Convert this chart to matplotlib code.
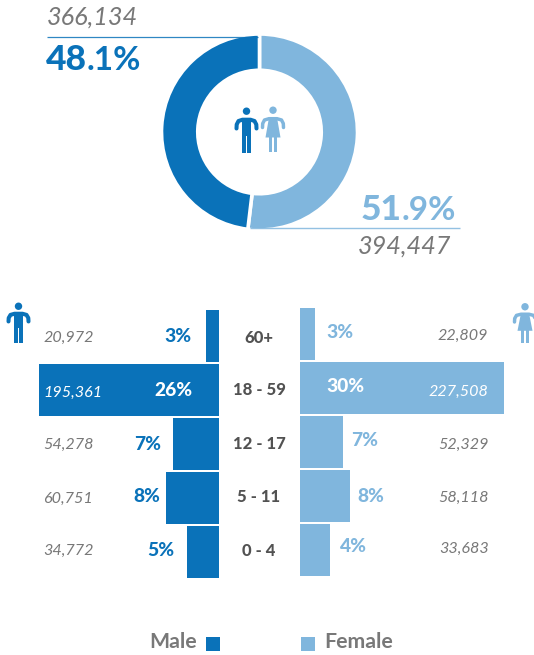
import matplotlib
matplotlib.use('Agg')
import matplotlib.pyplot as plt
from matplotlib.patches import Circle, Polygon, Rectangle

plt.rcParams['font.family'] = ['Lato', 'DejaVu Sans']

BLUE = '#0a72b9'
LIGHT = '#80b6dd'
GRAY = '#787878'
DARK = '#525252'

W, H = 534, 655

ages = ['60+', '18 - 59', '12 - 17', '5 - 11', '0 - 4']
male_pop = ['20,972', '195,361', '54,278', '60,751', '34,772']
female_pop = ['22,809', '227,508', '52,329', '58,118', '33,683']
male_pct = ['3%', '26%', '7%', '8%', '5%']
female_pct = ['3%', '30%', '7%', '8%', '4%']
# bar lengths as drawn in the picture, they do not follow the labels exactly
male_len = [2.0, 26.0, 6.7, 7.7, 4.6]
female_len = [2.2, 29.6, 6.3, 7.3, 4.4]
total_share = [51.9, 48.1]
total_colors = [LIGHT, BLUE]

fig = plt.figure(figsize=(W / 100, H / 100), dpi=100)


def px_axes(x0, y0, x1, y1):
    return fig.add_axes([x0 / W, 1 - y1 / H, (x1 - x0) / W, (y1 - y0) / H])


# donut
ax_d = px_axes(161.5, 34, 357.5, 230)
ax_d.pie(total_share, colors=total_colors, startangle=90, counterclock=False,
         radius=1, wedgeprops=dict(width=0.37, edgecolor='white', linewidth=2.6))
ax_d.set_xlim(-1, 1)
ax_d.set_ylim(-1, 1)

# pyramid
ax_m = px_axes(39, 309, 219.4, 579)
ax_m.barh(range(5), male_len, height=0.945, color=BLUE, edgecolor='none')
ax_m.set_xlim(26, 0)
ax_m.set_ylim(4.5, -0.5)
ax_m.axis('off')

ax_f = px_axes(299.7, 307, 504.3, 577)
ax_f.barh(range(5), female_len, height=0.945, color=LIGHT, edgecolor='none')
ax_f.set_xlim(0, 29.6)
ax_f.set_ylim(4.5, -0.5)
ax_f.axis('off')

# everything else sits in pixel space
ax = fig.add_axes([0, 0, 1, 1], facecolor='none')
ax.set_xlim(0, W)
ax.set_ylim(H, 0)
ax.axis('off')


def man(cx, top, sy=1.0, color=BLUE):
    y = lambda v: top + v * sy
    ax.add_patch(Circle((cx, y(3.7)), 3.7, color=color, lw=0))
    ax.plot([cx - 10, cx - 9.8, cx - 8, cx - 4, cx + 4, cx + 8, cx + 9.8, cx + 10],
            [y(21), y(17), y(13.5), y(12.2), y(12.2), y(13.5), y(17), y(21)],
            color=color, lw=2.9, solid_capstyle='round', solid_joinstyle='round')
    ax.add_patch(Rectangle((cx - 4.6, y(11)), 9.2, 17 * sy, color=color, lw=0))
    ax.add_patch(Rectangle((cx - 4.6, y(27)), 3.9, 18 * sy, color=color, lw=0))
    ax.add_patch(Rectangle((cx + 0.7, y(27)), 3.9, 18 * sy, color=color, lw=0))


def woman(cx, top, sy=1.0, color=LIGHT):
    y = lambda v: top + v * sy
    ax.add_patch(Circle((cx, y(3.7)), 3.7, color=color, lw=0))
    ax.plot([cx - 10.5, cx - 10.3, cx - 8.5, cx - 4, cx + 4, cx + 8.5, cx + 10.3, cx + 10.5],
            [y(21), y(17), y(13.5), y(12.2), y(12.2), y(13.5), y(17), y(21)],
            color=color, lw=2.5, solid_capstyle='round', solid_joinstyle='round')
    ax.add_patch(Polygon([(cx - 4, y(11)), (cx + 4, y(11)), (cx + 7.5, y(31)), (cx - 7.5, y(31))],
                         color=color, lw=0))
    ax.add_patch(Rectangle((cx - 4, y(30)), 3.2, 15 * sy, color=color, lw=0))
    ax.add_patch(Rectangle((cx + 0.8, y(30)), 3.2, 15 * sy, color=color, lw=0))


man(246.5, 107.5)
woman(273, 106.5)
man(18.5, 303, sy=0.88)
woman(525, 303.5, sy=0.88)


def two_part(x, y, bold, rest, size, color):
    # bold integer part followed by regular decimals, sharing a baseline
    fig.canvas.draw()
    r = fig.canvas.get_renderer()
    t1 = ax.text(x, y, bold, fontsize=size + 1.5, fontweight='black', color=color, va='baseline')
    w1 = t1.get_window_extent(r).width
    ax.text(x + w1 - 0.5, y, rest, fontsize=size, fontweight='bold', color=color, va='baseline')


# totals
ax.text(47, 25, '366,134', fontsize=18.2, style='italic', color=GRAY, va='baseline')
ax.plot([47, 258], [36.5, 36.5], color=BLUE, lw=0.9, alpha=0.85, solid_capstyle='butt')
two_part(46, 70, '48', '.1%', 24, BLUE)
two_part(361, 220, '51', '.9%', 24, LIGHT)
ax.plot([250, 460], [227.5, 227.5], color=LIGHT, lw=1.0, alpha=0.85, solid_capstyle='butt')
ax.text(358, 254, '394,447', fontsize=18.2, style='italic', color=GRAY, va='baseline')

# row labels
age_y = [338, 390, 444, 497, 551]
m_pop_y = [338, 393, 445, 499, 551]
f_pop_y = [336, 392, 445, 498, 549]
m_pct_x = [178, 173, 147.5, 147, 161]
m_pct_y = [337, 390, 444, 497, 551]
f_pct_x = [340, 345, 365, 371, 353]
f_pct_y = [333, 387, 441, 497, 547]
for i in range(5):
    ax.text(259, age_y[i], ages[i], fontsize=12, fontweight='black', color=DARK, ha='center', va='center')
    ax.text(43.5, m_pop_y[i], male_pop[i], fontsize=11.6, style='italic',
            color='white' if i == 1 else GRAY, va='center')
    ax.text(488.5, f_pop_y[i], female_pop[i], fontsize=11.6, style='italic',
            color='white' if i == 1 else GRAY, ha='right', va='center')
    ax.text(m_pct_x[i], m_pct_y[i], male_pct[i], fontsize=13.8, fontweight='black',
            color='white' if i == 1 else BLUE, ha='center', va='center')
    ax.text(f_pct_x[i], f_pct_y[i], female_pct[i], fontsize=13.8, fontweight='black',
            color='white' if i == 1 else LIGHT, ha='center', va='center')

# legend
ax.text(149.5, 648, 'Male', fontsize=15.3, color=GRAY, fontweight='bold', va='baseline')
ax.add_patch(Rectangle((206, 637), 14, 14, color=BLUE, lw=0))
ax.add_patch(Rectangle((301, 637), 14, 14, color=LIGHT, lw=0))
ax.text(324, 648, 'Female', fontsize=15.3, color=GRAY, fontweight='bold', va='baseline')

fig.savefig('out.png', dpi=100)
